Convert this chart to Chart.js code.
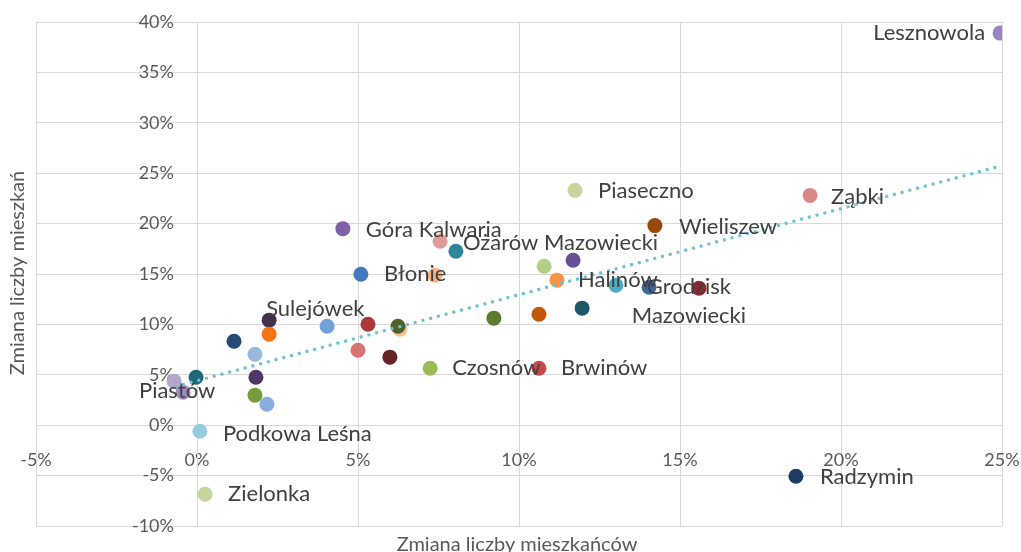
<!DOCTYPE html>
<html>
<head>
<meta charset="utf-8">
<script src="https://cdn.jsdelivr.net/npm/chart.js@4/dist/chart.umd.min.js"></script>
<style>
body{margin:0;background:#fff;}
#wrap{width:1021px;height:552px;position:relative;}
</style>
</head>
<body>
<div id="wrap"><canvas id="wykres"></canvas></div>
<script>
// gminy - zmiana liczby mieszkancow (x, %) i mieszkan (y, %)
var etykiety = ['Lesznowola','Ząbki','Piaseczno','Wieliszew','Góra Kalwaria','','Ożarów Mazowiecki','Błonie','','',
	'','Halinów','Grodzisk\nMazowiecki','','','','','','Sulejówek','',
	'','','','','','','','','Czosnów','Brwinów',
	'','','Piastów','','','','Podkowa Leśna','Zielonka','Radzymin'];
var zmiana_mieszkancow = [24.94,19.04,11.74,14.22,4.53,7.55,8.04,5.09,7.39,10.78,
	11.68,11.18,13.01,14.04,15.59,11.96,10.62,9.22,2.24,4.04,
	5.31,6.30,6.24,2.24,1.15,1.80,5.00,5.99,7.24,10.62,
	-0.03,-0.71,-0.43,1.83,1.80,2.17,0.09,0.25,18.6];
var zmiana_mieszkan = [38.9,22.8,23.3,19.8,19.5,18.25,17.26,14.98,14.88,15.77,
	16.37,14.39,13.89,13.69,13.59,11.61,11.01,10.62,10.42,9.82,
	10.02,9.52,9.82,9.03,8.33,7.04,7.44,6.75,5.65,5.65,
	4.76,4.37,3.27,4.76,2.98,2.08,-0.6,-6.85,-5.06];
// linia trendu - konce
var trend_x = [-0.71, 24.94];
var trend_y = [3.8, 25.7];
var ticks_x = [-5,0,5,10,15,20,25];
var ticks_y = [-10,-5,0,5,10,15,20,25,30,35,40];

var kolory = ['#9a83c3','#d98885','#c3d69b','#984807','#7f5fa6','#e09a98','#31859c','#4678c0','#fab080','#b3cf86',
	'#6a4e93','#f79646','#4bacc6','#3c67a6','#8c2a2e','#1f5868','#c0590c','#5e7a2d','#42304f','#72a0d8',
	'#a83a3a','#fac090','#4f6228','#f47416','#254a78','#9ab8de','#d77372','#632523','#9bbb59','#c9474a',
	'#1e6878','#b7a5cc','#9e88c2','#4b3866','#779a3a','#87ace0','#93cddd','#c3d69b','#1f3c64'];

// przesuniecia etykiet wzgledem punktu (px)
var etykiety_pos = {
	'Lesznowola': {dx:-15, dy:0, align:'right'},
	'Ząbki': {dx:21, dy:2},
	'Piaseczno': {dx:23, dy:1},
	'Wieliszew': {dx:24, dy:1},
	'Góra Kalwaria': {dx:23, dy:1},
	'Ożarów Mazowiecki': {dx:7, dy:-8},
	'Błonie': {dx:23, dy:0},
	'Halinów': {dx:21, dy:0},
	'Grodzisk\nMazowiecki': {dx:73, dy:2, align:'center'},
	'Sulejówek': {dx:-3, dy:-11},
	'Czosnów': {dx:22, dy:0},
	'Brwinów': {dx:22, dy:0},
	'Piastów': {dx:-6, dy:-1, align:'center'},
	'Podkowa Leśna': {dx:23, dy:3},
	'Zielonka': {dx:23, dy:0},
	'Radzymin': {dx:24, dy:1}
};

var punkty = [];
for (var i = 0; i < zmiana_mieszkancow.length; i++) {
	punkty.push({x: zmiana_mieszkancow[i], y: zmiana_mieszkan[i]});
}
var trend = [];
for (var j = 0; j < trend_x.length; j++) {
	trend.push({x: trend_x[j], y: trend_y[j]});
}

var etykiety_plugin = {
	id: 'etykiety',
	afterDatasetsDraw: function(chart) {
		var ctx = chart.ctx;
		var meta = chart.getDatasetMeta(1);
		ctx.save();
		ctx.font = '22px Lato';
		ctx.fillStyle = '#404040';
		ctx.textBaseline = 'middle';
		meta.data.forEach(function(el, idx) {
			var txt = etykiety[idx];
			if (!txt) return;
			var p = etykiety_pos[txt] || {dx:20, dy:0};
			ctx.textAlign = p.align || 'left';
			var linie = txt.split('\n');
			linie.forEach(function(l, k) {
				ctx.fillText(l, el.x + p.dx, el.y + p.dy + k * 29);
			});
		});
		ctx.restore();
	}
};

var tytuly_plugin = {
	id: 'tytuly',
	afterDraw: function(chart) {
		var ctx = chart.ctx;
		ctx.save();
		ctx.font = '20px Lato';
		ctx.fillStyle = '#595959';
		ctx.textAlign = 'center';
		ctx.textBaseline = 'middle';
		ctx.fillText('Zmiana liczby mieszkańców', 517, 545);
		ctx.translate(18, 273);
		ctx.rotate(-Math.PI / 2);
		ctx.fillText('Zmiana liczby mieszkań', 0, 0);
		ctx.restore();
	}
};

new Chart(document.getElementById('wykres'), {
	type: 'scatter',
	data: {
		datasets: [{
			type: 'line',
			label: 'Trend',
			data: trend,
			borderColor: '#6cc0d8',
			borderWidth: 3,
			borderDash: [3, 5],
			pointRadius: 0,
			fill: false
		}, {
			label: 'Gminy',
			data: punkty,
			pointRadius: 7.5,
			pointHoverRadius: 7.5,
			pointBackgroundColor: kolory,
			pointBorderColor: kolory,
			pointBorderWidth: 0
		}]
	},
	options: {
		responsive: true,
		maintainAspectRatio: false,
		animation: false,
		layout: {padding: {left: 36, right: 19, top: 22, bottom: 26}},
		plugins: {
			legend: {display: false},
			tooltip: {enabled: false}
		},
		scales: {
			x: {
				type: 'linear',
				position: {y: 0},
				min: -5, max: 25,
				afterBuildTicks: function(scale) {
					scale.ticks = ticks_x.map(function(v){ return {value: v}; });
				},
				afterFit: function(scale) {
					scale.paddingLeft = 0;
					scale.paddingRight = 0;
				},
				grid: {color: '#d9d9d9', lineWidth: 1, drawTicks: false},
				border: {color: '#d9d9d9'},
				ticks: {
					padding: 24,
					color: '#595959',
					font: {family: 'Lato', size: 18},
					maxRotation: 0,
					callback: function(v){ return v + '%'; }
				}
			},
			y: {
				type: 'linear',
				position: {x: 0},
				min: -10, max: 40,
				afterBuildTicks: function(scale) {
					scale.ticks = ticks_y.map(function(v){ return {value: v}; });
				},
				afterFit: function(scale) {
					scale.paddingTop = 0;
					scale.paddingBottom = 0;
				},
				grid: {color: '#d9d9d9', lineWidth: 1, drawTicks: false},
				border: {color: '#d9d9d9'},
				ticks: {
					color: '#595959',
					font: {family: 'Lato', size: 18},
					// etykiety odsuniete od osi spacjami
					callback: function(v){ return v + '%     '; }
				}
			}
		}
	},
	plugins: [etykiety_plugin, tytuly_plugin]
});
</script>
</body>
</html>
